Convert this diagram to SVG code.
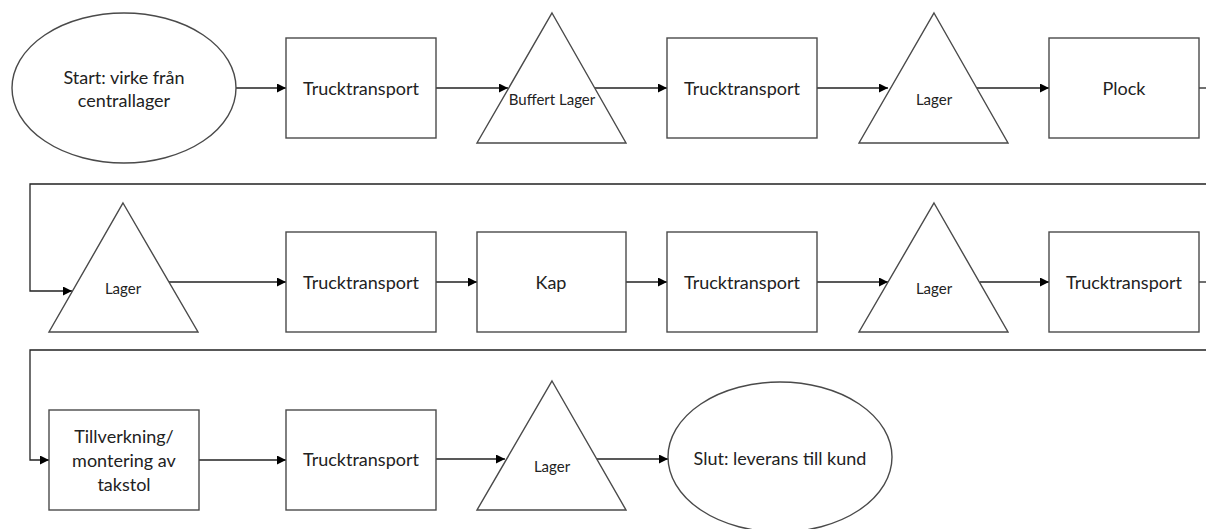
<svg xmlns="http://www.w3.org/2000/svg" width="1206" height="529" viewBox="0 0 1206 529">
<style>
.shape{fill:#fff;stroke:#4a4a4a;stroke-width:1.4}
.t{font-family:Lato,"Liberation Sans",sans-serif;font-size:18px;fill:#222;text-anchor:middle}
.s{font-family:Lato,"Liberation Sans",sans-serif;font-size:15px;fill:#222;text-anchor:middle}
.c{fill:none;stroke:#222;stroke-width:1.3}
</style>
<defs>
<marker id="arr" viewBox="0 0 10 10" refX="10" refY="5" markerWidth="12" markerHeight="9" markerUnits="userSpaceOnUse" orient="auto">
<path d="M0,0 L10,5 L0,10 z" fill="#000"/>
</marker>
</defs>
<rect width="1206" height="529" fill="#fff"/>
<g id="connectors">
<path class="c" d="M236,88 H286" marker-end="url(#arr)"/>
<path class="c" d="M436,88 H508" marker-end="url(#arr)"/>
<path class="c" d="M595,88 H667" marker-end="url(#arr)"/>
<path class="c" d="M817,88 H888" marker-end="url(#arr)"/>
<path class="c" d="M977,88 H1049" marker-end="url(#arr)"/>
<path class="c" d="M1199,88 H1206"/>
<path class="c" d="M1206,184 H30 V291 H72" marker-end="url(#arr)"/>
<path class="c" d="M169,282 H286" marker-end="url(#arr)"/>
<path class="c" d="M436,282 H477" marker-end="url(#arr)"/>
<path class="c" d="M626,282 H667" marker-end="url(#arr)"/>
<path class="c" d="M817,282 H888" marker-end="url(#arr)"/>
<path class="c" d="M980,282 H1049" marker-end="url(#arr)"/>
<path class="c" d="M1199,282 H1206"/>
<path class="c" d="M1206,350 H30 V460 H49" marker-end="url(#arr)"/>
<path class="c" d="M199,460 H286" marker-end="url(#arr)"/>
<path class="c" d="M436,459 H505" marker-end="url(#arr)"/>
<path class="c" d="M597,459 H668" marker-end="url(#arr)"/>
</g>
<g id="start">
<ellipse class="shape" cx="124" cy="88" rx="112" ry="75"/>
<text class="t" x="124" y="84">Start: virke från</text>
<text class="t" x="124" y="107">centrallager</text>
</g>
<g id="truck1">
<rect class="shape" x="286" y="38" width="150" height="100"/>
<text class="t" x="361" y="95">Trucktransport</text>
</g>
<g id="buffert">
<polygon class="shape" points="552,13 626,143 477,143"/>
<text class="s" x="552" y="105">Buffert Lager</text>
</g>
<g id="truck2">
<rect class="shape" x="667" y="38" width="150" height="100"/>
<text class="t" x="742" y="95">Trucktransport</text>
</g>
<g id="lager1">
<polygon class="shape" points="934,13 1008,143 859,143"/>
<text class="s" x="934" y="105">Lager</text>
</g>
<g id="plock">
<rect class="shape" x="1049" y="38" width="150" height="100"/>
<text class="t" x="1124" y="95">Plock</text>
</g>
<g id="lager2">
<polygon class="shape" points="123,203 198,332 49,332"/>
<text class="s" x="123" y="294">Lager</text>
</g>
<g id="truck3">
<rect class="shape" x="286" y="232" width="150" height="100"/>
<text class="t" x="361" y="289">Trucktransport</text>
</g>
<g id="kap">
<rect class="shape" x="477" y="232" width="149" height="100"/>
<text class="t" x="551" y="289">Kap</text>
</g>
<g id="truck4">
<rect class="shape" x="667" y="232" width="150" height="100"/>
<text class="t" x="742" y="289">Trucktransport</text>
</g>
<g id="lager3">
<polygon class="shape" points="934,203 1008,332 859,332"/>
<text class="s" x="934" y="294">Lager</text>
</g>
<g id="truck5">
<rect class="shape" x="1049" y="232" width="150" height="100"/>
<text class="t" x="1124" y="289">Trucktransport</text>
</g>
<g id="tillverkning">
<rect class="shape" x="49" y="410" width="150" height="100"/>
<text class="t" x="124" y="443">Tillverkning/</text>
<text class="t" x="124" y="467">montering av</text>
<text class="t" x="124" y="491">takstol</text>
</g>
<g id="truck6">
<rect class="shape" x="286" y="410" width="150" height="100"/>
<text class="t" x="361" y="466">Trucktransport</text>
</g>
<g id="lager4">
<polygon class="shape" points="552,381 626,510 477,510"/>
<text class="s" x="552" y="472">Lager</text>
</g>
<g id="slut">
<ellipse class="shape" cx="780" cy="457" rx="112" ry="75"/>
<text class="t" x="780" y="465">Slut: leverans till kund</text>
</g>
</svg>
